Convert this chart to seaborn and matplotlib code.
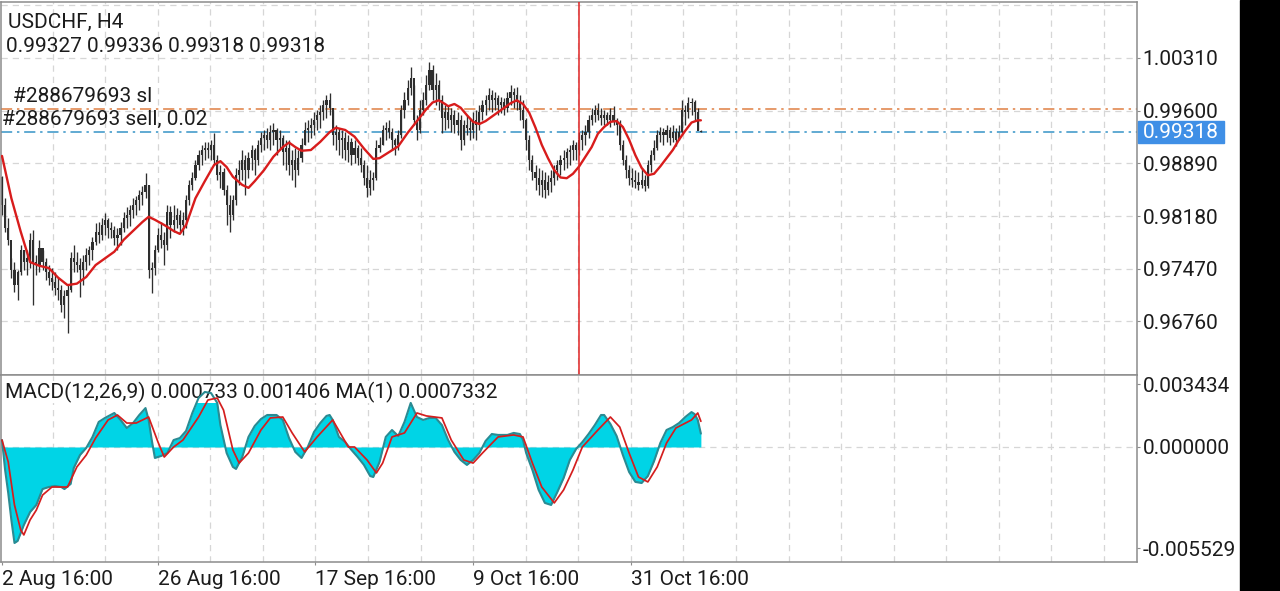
import numpy as np
import matplotlib
matplotlib.use("Agg")
import matplotlib.pyplot as plt
from matplotlib.patches import Rectangle
import seaborn as sns

# ---- data ----
symbol = "USDCHF, H4"
ohlc_text = "0.99327 0.99336 0.99318 0.99318"
order_sl = 0.99623
last_price = 0.99318
first_open = 0.9870

highs = [0.9872, 0.9842, 0.9815, 0.9761, 0.9756, 0.9745, 0.9779, 0.9772, 0.9772, 0.9795,
         0.9799, 0.9766, 0.9786, 0.9772, 0.9761, 0.9752, 0.9748, 0.9743, 0.9735, 0.9725,
         0.9718, 0.9725, 0.9770, 0.9779, 0.9770, 0.9761, 0.9766, 0.9775, 0.9778, 0.9790,
         0.9809, 0.9810, 0.9815, 0.9822, 0.9815, 0.9810, 0.9805, 0.9802, 0.9810, 0.9824,
         0.9830, 0.9833, 0.9842, 0.9845, 0.9853, 0.9859, 0.9876, 0.9860, 0.9756, 0.9779,
         0.9802, 0.9810, 0.9797, 0.9833, 0.9832, 0.9833, 0.9829, 0.9826, 0.9824, 0.9846,
         0.9867, 0.9877, 0.9894, 0.9907, 0.9914, 0.9918, 0.9918, 0.9921, 0.9930, 0.9900,
         0.9887, 0.9883, 0.9860, 0.9846, 0.9846, 0.9883, 0.9894, 0.9907, 0.9900, 0.9904,
         0.9914, 0.9910, 0.9921, 0.9931, 0.9934, 0.9937, 0.9941, 0.9943, 0.9937, 0.9934,
         0.9927, 0.9921, 0.9921, 0.9907, 0.9910, 0.9907, 0.9923, 0.9945, 0.9947, 0.9950,
         0.9958, 0.9961, 0.9968, 0.9974, 0.9981, 0.9984, 0.9961, 0.9941, 0.9937, 0.9934,
         0.9931, 0.9927, 0.9923, 0.9921, 0.9914, 0.9910, 0.9894, 0.9887, 0.9880, 0.9877,
         0.9921, 0.9925, 0.9941, 0.9945, 0.9947, 0.9937, 0.9923, 0.9934, 0.9968, 0.9985,
         1.0001, 1.0019, 0.9995, 0.9954, 0.9974, 0.9985, 1.0008, 1.0026, 1.0022, 1.0011,
         1.0001, 0.9981, 0.9968, 0.9968, 0.9964, 0.9961, 0.9958, 0.9954, 0.9947, 0.9954,
         0.9950, 0.9958, 0.9961, 0.9968, 0.9974, 0.9981, 0.9991, 0.9988, 0.9985, 0.9981,
         0.9978, 0.9977, 0.9985, 0.9995, 0.9991, 0.9992, 0.9981, 0.9974, 0.9950, 0.9927,
         0.9900, 0.9887, 0.9883, 0.9880, 0.9877, 0.9873, 0.9880, 0.9887, 0.9894, 0.9900,
         0.9907, 0.9910, 0.9914, 0.9921, 0.9918, 0.9931, 0.9934, 0.9941, 0.9954, 0.9964,
         0.9968, 0.9970, 0.9964, 0.9961, 0.9958, 0.9964, 0.9966, 0.9950, 0.9947, 0.9921,
         0.9900, 0.9887, 0.9883, 0.9880, 0.9877, 0.9883, 0.9873, 0.9894, 0.9907, 0.9921,
         0.9934, 0.9938, 0.9937, 0.9941, 0.9938, 0.9941, 0.9937, 0.9941, 0.9974, 0.9968,
         0.9978, 0.9977, 0.9974, 0.9964, 0.99336]

lows = [0.9819, 0.9797, 0.9779, 0.9735, 0.9716, 0.9705, 0.9739, 0.9745, 0.9739, 0.9748,
        0.9698, 0.9739, 0.9743, 0.9745, 0.9732, 0.9725, 0.9718, 0.9712, 0.9705, 0.9689,
        0.9681, 0.9661, 0.9716, 0.9743, 0.9743, 0.9709, 0.9725, 0.9745, 0.9752, 0.9759,
        0.9779, 0.9782, 0.9786, 0.9793, 0.9788, 0.9788, 0.9779, 0.9772, 0.9779, 0.9797,
        0.9802, 0.9805, 0.9815, 0.9819, 0.9826, 0.9833, 0.9842, 0.9735, 0.9714, 0.9739,
        0.9770, 0.9775, 0.9752, 0.9772, 0.9788, 0.9797, 0.9802, 0.9797, 0.9793, 0.9802,
        0.9833, 0.9853, 0.9867, 0.9880, 0.9887, 0.9894, 0.9896, 0.9894, 0.9887, 0.9867,
        0.9856, 0.9846, 0.9806, 0.9797, 0.9813, 0.9833, 0.9860, 0.9867, 0.9846, 0.9869,
        0.9880, 0.9873, 0.9887, 0.9904, 0.9907, 0.9910, 0.9907, 0.9914, 0.9900, 0.9907,
        0.9887, 0.9880, 0.9873, 0.9867, 0.9857, 0.9873, 0.9891, 0.9914, 0.9918, 0.9923,
        0.9927, 0.9934, 0.9937, 0.9947, 0.9950, 0.9954, 0.9914, 0.9907, 0.9900, 0.9896,
        0.9894, 0.9891, 0.9887, 0.9890, 0.9887, 0.9877, 0.9860, 0.9844, 0.9846, 0.9853,
        0.9867, 0.9904, 0.9914, 0.9921, 0.9923, 0.9907, 0.9900, 0.9907, 0.9923, 0.9950,
        0.9968, 0.9981, 0.9941, 0.9921, 0.9930, 0.9954, 0.9968, 0.9988, 0.9974, 0.9968,
        0.9961, 0.9930, 0.9934, 0.9937, 0.9931, 0.9930, 0.9927, 0.9907, 0.9914, 0.9927,
        0.9921, 0.9923, 0.9921, 0.9934, 0.9947, 0.9954, 0.9961, 0.9958, 0.9961, 0.9954,
        0.9957, 0.9954, 0.9958, 0.9968, 0.9964, 0.9961, 0.9947, 0.9937, 0.9907, 0.9880,
        0.9867, 0.9853, 0.9846, 0.9844, 0.9842, 0.9846, 0.9850, 0.9860, 0.9867, 0.9873,
        0.9880, 0.9883, 0.9887, 0.9894, 0.9894, 0.9900, 0.9907, 0.9914, 0.9923, 0.9941,
        0.9945, 0.9947, 0.9941, 0.9941, 0.9941, 0.9938, 0.9941, 0.9927, 0.9907, 0.9887,
        0.9869, 0.9860, 0.9857, 0.9856, 0.9853, 0.9856, 0.9852, 0.9856, 0.9877, 0.9894,
        0.9907, 0.9918, 0.9914, 0.9918, 0.9914, 0.9918, 0.9912, 0.9921, 0.9930, 0.9941,
        0.9950, 0.9954, 0.9947, 0.9934, 0.99318]

closes = [0.9833, 0.9802, 0.9786, 0.9745, 0.9725, 0.9743, 0.9772, 0.9756, 0.9761, 0.9786,
          0.9756, 0.9752, 0.9775, 0.9756, 0.9743, 0.9735, 0.9729, 0.9721, 0.9718, 0.9698,
          0.9710, 0.9718, 0.9761, 0.9756, 0.9752, 0.9745, 0.9756, 0.9766, 0.9772, 0.9783,
          0.9797, 0.9793, 0.9806, 0.9813, 0.9802, 0.9799, 0.9788, 0.9793, 0.9802, 0.9815,
          0.9819, 0.9826, 0.9833, 0.9840, 0.9846, 0.9850, 0.9860, 0.9745, 0.9748, 0.9772,
          0.9793, 0.9786, 0.9779, 0.9824, 0.9806, 0.9813, 0.9819, 0.9806, 0.9813, 0.9840,
          0.9860, 0.9869, 0.9887, 0.9900, 0.9907, 0.9910, 0.9907, 0.9914, 0.9894, 0.9873,
          0.9877, 0.9853, 0.9833, 0.9819, 0.9840, 0.9873, 0.9880, 0.9894, 0.9880, 0.9896,
          0.9907, 0.9894, 0.9914, 0.9923, 0.9927, 0.9921, 0.9931, 0.9934, 0.9921, 0.9923,
          0.9904, 0.9910, 0.9887, 0.9894, 0.9880, 0.9896, 0.9914, 0.9934, 0.9937, 0.9941,
          0.9947, 0.9954, 0.9958, 0.9968, 0.9974, 0.9964, 0.9927, 0.9931, 0.9921, 0.9923,
          0.9907, 0.9918, 0.9900, 0.9910, 0.9896, 0.9887, 0.9869, 0.9856, 0.9867, 0.9869,
          0.9910, 0.9914, 0.9934, 0.9937, 0.9931, 0.9921, 0.9914, 0.9927, 0.9961, 0.9974,
          0.9991, 1.0004, 0.9947, 0.9934, 0.9961, 0.9974, 0.9995, 1.0015, 0.9988, 0.9995,
          0.9974, 0.9950, 0.9958, 0.9947, 0.9954, 0.9941, 0.9947, 0.9921, 0.9941, 0.9937,
          0.9934, 0.9947, 0.9941, 0.9958, 0.9968, 0.9974, 0.9981, 0.9974, 0.9977, 0.9968,
          0.9972, 0.9964, 0.9977, 0.9985, 0.9981, 0.9972, 0.9961, 0.9947, 0.9921, 0.9894,
          0.9877, 0.9869, 0.9860, 0.9867, 0.9853, 0.9864, 0.9869, 0.9880, 0.9887, 0.9894,
          0.9896, 0.9904, 0.9907, 0.9914, 0.9907, 0.9921, 0.9927, 0.9931, 0.9947, 0.9954,
          0.9961, 0.9954, 0.9950, 0.9954, 0.9947, 0.9954, 0.9945, 0.9941, 0.9914, 0.9894,
          0.9880, 0.9869, 0.9867, 0.9864, 0.9860, 0.9867, 0.9859, 0.9887, 0.9900, 0.9910,
          0.9927, 0.9931, 0.9927, 0.9934, 0.9923, 0.9931, 0.9921, 0.9931, 0.9961, 0.9958,
          0.9971, 0.9972, 0.9958, 0.99327, 0.99318]

# red moving average on the price panel (bar index, value)
ma_idx = [0, 3, 6, 9, 12, 15, 18, 21, 24, 27, 30, 33, 36, 39, 42, 45, 47, 49, 52, 55,
          57, 59, 62, 65, 68, 70, 72, 74, 77, 79, 81, 84, 87, 90, 92, 94, 96, 99, 102, 105,
          107, 110, 113, 116, 119, 121, 124, 127, 130, 133, 136, 138, 140, 142, 143, 145, 147, 149, 151, 153,
          155, 158, 161, 163, 165, 167, 169, 171, 173, 175, 177, 179, 181, 183, 185, 187, 189, 191, 193, 195,
          197, 199, 201, 203, 205, 207, 209, 211, 213, 215, 217, 219, 221, 223, 224]
ma_vals = [0.9899, 0.9842, 0.9797, 0.9756, 0.9751, 0.9748, 0.9735, 0.9725, 0.9727, 0.9736,
           0.9752, 0.9761, 0.9770, 0.9786, 0.9798, 0.9810, 0.9817, 0.9813, 0.9806, 0.9798,
           0.9794, 0.9806, 0.9842, 0.9865, 0.9887, 0.9892, 0.9884, 0.9871, 0.9860, 0.9856,
           0.9865, 0.9880, 0.9898, 0.9911, 0.9917, 0.9911, 0.9906, 0.9907, 0.9918, 0.9931,
           0.9937, 0.9934, 0.9925, 0.9909, 0.9895, 0.9896, 0.9904, 0.9912, 0.9930, 0.9946,
           0.9962, 0.9971, 0.9974, 0.9969, 0.9966, 0.9969, 0.9964, 0.9954, 0.9945, 0.9942,
           0.9946, 0.9955, 0.9964, 0.9970, 0.9974, 0.9969, 0.9957, 0.9937, 0.9914, 0.9896,
           0.9880, 0.9870, 0.9869, 0.9875, 0.9885, 0.9898, 0.9911, 0.9929, 0.9938, 0.9945,
           0.9946, 0.9938, 0.9921, 0.9900, 0.9883, 0.9873, 0.9875, 0.9885, 0.9896, 0.9907,
           0.9921, 0.9933, 0.9944, 0.9947, 0.9947]

# MACD(12,26,9) main line (cyan area) and signal line (red)
macd_idx = [0, 1, 2, 3, 4, 5, 7, 9, 11, 13, 15, 17, 19, 20, 22, 23, 25, 27, 29, 31,
            33, 36, 38, 40, 42, 44, 46, 47, 48, 49, 51, 53, 55, 57, 59, 61, 63, 65, 67, 69,
            70, 72, 74, 75, 77, 79, 81, 83, 85, 88, 90, 92, 94, 96, 98, 100, 102, 104, 105, 106,
            108, 110, 112, 114, 116, 118, 119, 121, 123, 125, 127, 129, 131, 132, 133, 135, 137, 139, 141, 143,
            145, 147, 149, 151, 153, 155, 157, 159, 162, 164, 166, 167, 168, 170, 172, 174, 176, 178, 180, 182,
            184, 186, 188, 190, 192, 193, 195, 197, 199, 201, 203, 205, 207, 209, 211, 213, 215, 217, 219, 221,
            222, 223, 224]
macd_vals = [0.00038, -0.00126, -0.00252, -0.00399, -0.00525, -0.00514, -0.00427, -0.00356, -0.00317, -0.00230,
             -0.00219, -0.00213, -0.00219, -0.00230, -0.00202, -0.00115, -0.00044, -0.00005, 0.00055, 0.00137,
             0.00159, 0.00186, 0.00148, 0.00104, 0.00131, 0.00175, 0.00213, 0.00148, 0.00038, -0.00060,
             -0.00049, -0.00033, 0.00038, 0.00049, 0.00088, 0.00186, 0.00268, 0.00301, 0.00295, 0.00241,
             0.00120, -0.00033, -0.00109, -0.00120, -0.00055, 0.00055, 0.00115, 0.00153, 0.00175, 0.00175,
             0.00148, 0.00049, -0.00027, -0.00060, 0.0, 0.00082, 0.00131, 0.00170, 0.00175, 0.00148,
             0.00055, 0.00027, -0.00016, -0.00055, -0.00098, -0.00159, -0.00164, -0.00082, 0.00055, 0.00093,
             0.00060, 0.00137, 0.00241, 0.00202, 0.00164, 0.00148, 0.00159, 0.00159, 0.00120, 0.00038,
             -0.00027, -0.00071, -0.00098, -0.00071, -0.00033, 0.00033, 0.00071, 0.00066, 0.00066, 0.00077,
             0.00071, 0.00038, -0.00033, -0.00126, -0.00235, -0.00306, -0.00317, -0.00246, -0.00170, -0.00071,
             -0.00011, 0.00027, 0.00071, 0.00120, 0.00175, 0.00175, 0.00126, 0.00060, -0.00044, -0.00137,
             -0.00191, -0.00197, -0.00159, -0.00077, 0.00022, 0.00093, 0.00109, 0.00131, 0.00164, 0.00191,
             0.00180, 0.00148, 0.000733]

sig_idx = [0, 2, 4, 6, 7, 9, 11, 13, 16, 21, 24, 27, 30, 34, 37, 40, 43, 47, 50, 52,
           55, 58, 63, 66, 69, 71, 74, 76, 79, 83, 86, 90, 93, 97, 101, 106, 111, 113, 117, 120,
           122, 125, 129, 133, 136, 141, 144, 148, 151, 154, 159, 164, 167, 170, 173, 177, 180, 183, 186, 191,
           195, 198, 201, 204, 207, 210, 213, 216, 221, 223, 224]
sig_vals = [0.00038, -0.00082, -0.00317, -0.00454, -0.00481, -0.00399, -0.00345, -0.00263, -0.00219, -0.00219,
            -0.00109, -0.00044, 0.00049, 0.00148, 0.00175, 0.00131, 0.00131, 0.00164, 0.00027, -0.00055,
            0.0, 0.00038, 0.00164, 0.00257, 0.00268, 0.00202, -0.00016, -0.00088, -0.00033, 0.00093,
            0.00159, 0.00164, 0.00077, -0.00027, 0.00055, 0.00148, 0.0, 0.0, -0.00071, -0.00142,
            -0.00088, 0.00055, 0.00077, 0.00186, 0.00170, 0.00159, 0.00038, -0.00071, -0.00088, -0.00033,
            0.00055, 0.00066, 0.00055, -0.00088, -0.00219, -0.00306, -0.00235, -0.00126, 0.0, 0.00093,
            0.00164, 0.00109, -0.00033, -0.00164, -0.00191, -0.00109, 0.00022, 0.00104, 0.00148, 0.00186,
            0.001406]

price_ticks = [1.00310, 0.99600, 0.98890, 0.98180, 0.97470, 0.96760]
price_labels = ["1.00310", "0.99600", "0.98890", "0.98180", "0.97470", "0.96760"]
macd_ticks = [0.003434, 0.0, -0.005529]
macd_tick_labels = ["0.003434", "0.000000", "-0.005529"]
date_labels = ["2 Aug 16:00", "26 Aug 16:00", "17 Sep 16:00", "9 Oct 16:00", "31 Oct 16:00"]
macd_title = "MACD(12,26,9) 0.000733 0.001406 MA(1) 0.0007332"
order_id = "#288679693"

# ---- style ----
sns.set_style("white")
plt.rcParams['font.family'] = ['Roboto', 'DejaVu Sans']
FS = 15
TXT = '#1c1c1c'
CANDLE = '#2e2e2e'
GRID = '#d6d6d6'
BORDER = '#8c8c8c'
W, H = 1280, 591
BAR_PX, X0_PX = 3.12, 2.0   # bar spacing / first bar position in pixels


def px_box(x0, y0, x1, y1):
    return [x0 / W, 1 - y1 / H, (x1 - x0) / W, (y1 - y0) / H]


def px_to_idx(p):
    return (p - X0_PX) / BAR_PX


fig = plt.figure(figsize=(12.8, 5.91), dpi=100)
ax = fig.add_axes(px_box(1, 2, 1137, 375))
axm = fig.add_axes(px_box(1, 375, 1137, 562), sharex=ax)

xs = np.arange(len(closes))
opens = [first_open] + closes[:-1]
ax.set_xlim(px_to_idx(1), px_to_idx(1137))
ax.set_ylim(0.96039, 1.01064)
axm.set_ylim(-0.006291, 0.003938)

# vertical dashed grid every ~52.6 px
grid_x = [px_to_idx(52.57 * k) for k in range(1, 22)]
for a in (ax, axm):
    for g in grid_x:
        a.axvline(g, color=GRID, lw=0.9, ls=(0, (5, 4)), zorder=0)
for p in price_ticks + [1.0102]:
    ax.axhline(p, color=GRID, lw=0.9, ls=(0, (5, 4)), zorder=0)
axm.axhline(0.0, color=GRID, lw=0.9, ls=(0, (5, 4)), zorder=0)

# candles
ax.vlines(xs, lows, highs, color=CANDLE, lw=0.95, zorder=2)
ax.bar(xs, np.array(closes) - np.array(opens), bottom=opens, width=0.7,
       color=CANDLE, linewidth=0, zorder=2)
sns.lineplot(x=ma_idx, y=ma_vals, ax=ax, color='#d81c1c', lw=1.7, zorder=3)

# order lines
ax.axhline(order_sl, color='#e0844a', lw=1.15, ls=(0, (7, 3, 1.5, 3)), zorder=1)
ax.axhline(last_price, color='#3d97c9', lw=1.15, ls=(0, (7, 3, 1.5, 3)), zorder=1)
ax.axvline(px_to_idx(579), color='#e02424', lw=1.1, zorder=4)

# MACD panel
axm.fill_between(macd_idx, 0, macd_vals, color='#00d4e6', lw=0, zorder=1)
sns.lineplot(x=macd_idx, y=macd_vals, ax=axm, color='#2a8b93', lw=1.5, zorder=3)
sns.lineplot(x=sig_idx, y=sig_vals, ax=axm, color='#d41e1e', lw=1.25, zorder=4)

# axes decoration
for a in (ax, axm):
    a.set_xlabel("")
    a.set_ylabel("")
    for s in a.spines.values():
        s.set_color(BORDER)
        s.set_linewidth(1.1)
    a.yaxis.tick_right()
    a.tick_params(axis='y', labelsize=FS, length=2.5, pad=1.5, colors=TXT, color=BORDER)

ax.set_yticks(price_ticks)
ax.set_yticklabels(price_labels)
ax.tick_params(axis='x', bottom=False, labelbottom=False)

axm.set_yticks(macd_ticks)
axm.set_yticklabels(macd_tick_labels)
date_pos = [0.0] + [grid_x[k - 1] for k in (3, 6, 9, 12)]
axm.set_xticks(date_pos)
axm.set_xticklabels(date_labels)
axm.tick_params(axis='x', labelsize=FS, length=2.5, pad=3, colors=TXT, color=BORDER, bottom=True)
for lab in axm.get_xticklabels():
    lab.set_horizontalalignment('left')

# texts
fig.text(8 / W, 1 - 22 / H, symbol, fontsize=FS, color=TXT, va='center')
fig.text(6 / W, 1 - 47 / H, ohlc_text, fontsize=FS, color=TXT, va='center')
fig.text(13 / W, 1 - 96 / H, order_id + " sl", fontsize=FS, color=TXT, va='center')
fig.text(2 / W, 1 - 119 / H, order_id + " sell, 0.02", fontsize=FS, color=TXT, va='center')
axm.text(5 / W, 1 - 392 / H, macd_title, transform=fig.transFigure, fontsize=FS, color=TXT,
         va='center', zorder=2, bbox=dict(fc='white', ec='none', pad=0.5))

# current price tag and black strip on the right
fig.patches.append(Rectangle((1138 / W, 1 - 143 / H), 86 / W, 22 / H, transform=fig.transFigure,
                             color='#3f8fe6', zorder=5))
fig.text(1181 / W, 1 - 132 / H, "0.99318", fontsize=FS, color='white', ha='center', va='center', zorder=6)
fig.patches.append(Rectangle((1240 / W, 0), 40 / W, 1, transform=fig.transFigure, color='black', zorder=5))

fig.savefig("out.png", dpi=100, facecolor='white')
